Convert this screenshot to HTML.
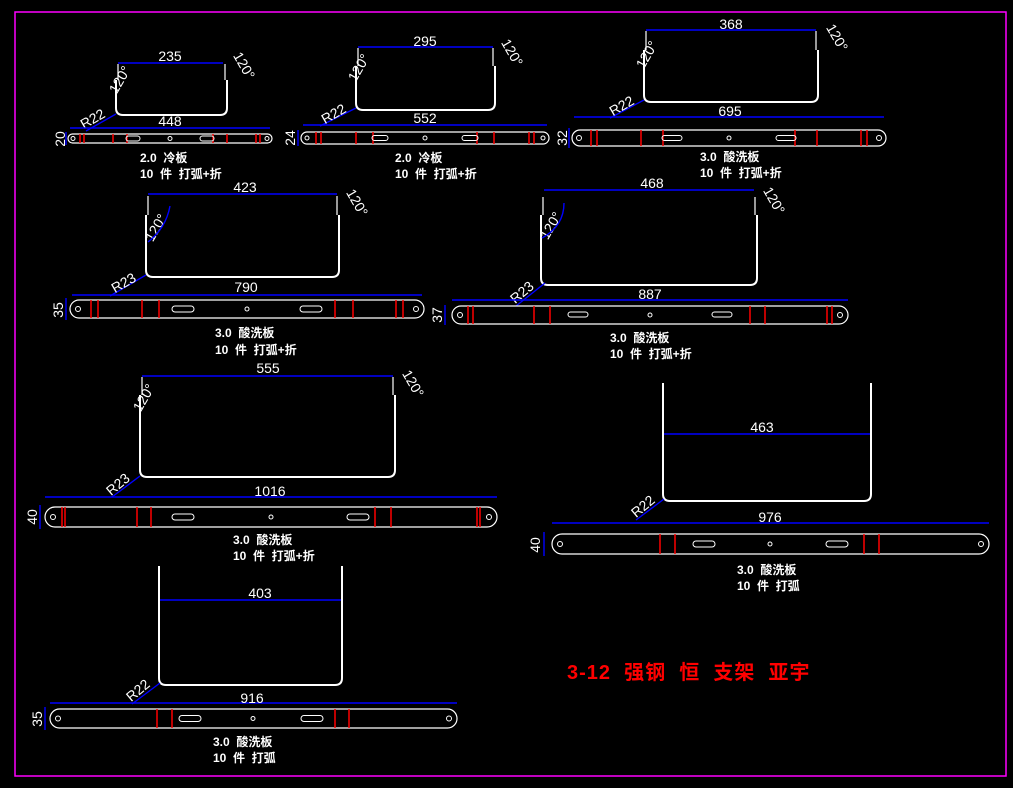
<!DOCTYPE html>
<html><head><meta charset="utf-8"><style>
html,body{margin:0;padding:0;background:#000;}
svg{display:block}
text{font-family:"Liberation Sans","Noto Sans CJK SC",sans-serif;fill:#fff;}
.u{fill:none;stroke:#fff;stroke-width:2}
.s{fill:none;stroke:#fff;stroke-width:1.2}
.d{stroke:#0000ff;stroke-width:1.4;fill:none}
.w{stroke:#fff;stroke-width:1;fill:none}
.r{stroke:#ff0000;stroke-width:1.5}
.dt{font-size:14px;text-anchor:middle}
.lt{font-size:12px;font-weight:bold}
</style></head><body>
<svg width="1013" height="788" viewBox="0 0 1013 788" xmlns="http://www.w3.org/2000/svg">
<rect x="0" y="0" width="1013" height="788" fill="#000"/>
<rect x="15" y="12" width="991" height="764" fill="none" stroke="#ff00ff" stroke-width="1.5"/>

<!-- Part 1 -->
<path class="u" d="M116,80 L116,108 Q116,115 123,115 L220,115 Q227,115 227,108 L227,80"/>
<path class="s" d="M118,80 L118,64 M225,80 L225,64"/>
<line class="d" x1="118" y1="63" x2="223" y2="63"/>
<text class="dt" x="170" y="61">235</text>
<text class="dt" x="240" y="68" transform="rotate(60 240 68)">120°</text>
<text class="dt" x="124" y="82" transform="rotate(-60 124 82)">120°</text>
<line class="d" x1="86" y1="131" x2="116" y2="114"/>
<text class="dt" x="95" y="123" transform="rotate(-30 95 123)">R22</text>
<line class="d" x1="70" y1="128" x2="270" y2="128"/>
<text class="dt" x="170" y="126">448</text>
<rect class="s" x="68" y="134" width="204" height="9" rx="4.5"/>
<g class="r"><line x1="80" y1="134" x2="80" y2="143"/><line x1="84" y1="134" x2="84" y2="143"/><line x1="113" y1="134" x2="113" y2="143"/><line x1="127" y1="134" x2="127" y2="143"/><line x1="213" y1="134" x2="213" y2="143"/><line x1="227" y1="134" x2="227" y2="143"/><line x1="256" y1="134" x2="256" y2="143"/><line x1="260" y1="134" x2="260" y2="143"/></g>
<rect class="w" x="126" y="136" width="14" height="5" rx="2.5"/><rect class="w" x="200" y="136" width="14" height="5" rx="2.5"/>
<circle class="w" cx="170" cy="138.5" r="2"/><circle class="w" cx="73" cy="138.5" r="2"/><circle class="w" cx="267" cy="138.5" r="2"/>
<line class="d" x1="66" y1="132" x2="66" y2="145"/>
<text class="dt" x="60" y="139" transform="rotate(-90 60 139)" dy="5">20</text>
<text class="lt" x="140" y="162">2.0&#160;&#160;冷板</text>
<text class="lt" x="140" y="178">10&#160;&#160;件&#160;&#160;打弧+折</text>

<!-- Part 2 -->
<path class="u" d="M356,66 L356,103 Q356,110 363,110 L488,110 Q495,110 495,103 L495,66"/>
<path class="s" d="M358,66 L358,48 M493,66 L493,48"/>
<line class="d" x1="358" y1="47" x2="493" y2="47"/>
<text class="dt" x="425" y="46">295</text>
<text class="dt" x="508" y="55" transform="rotate(60 508 55)">120°</text>
<text class="dt" x="363" y="70" transform="rotate(-60 363 70)">120°</text>
<line class="d" x1="320" y1="126" x2="356" y2="108"/>
<text class="dt" x="336" y="118" transform="rotate(-30 336 118)">R22</text>
<line class="d" x1="303" y1="125" x2="547" y2="125"/>
<text class="dt" x="425" y="123">552</text>
<rect class="s" x="301" y="132" width="248" height="12" rx="6"/>
<g class="r"><line x1="316" y1="132" x2="316" y2="144"/><line x1="321" y1="132" x2="321" y2="144"/><line x1="356" y1="132" x2="356" y2="144"/><line x1="373" y1="132" x2="373" y2="144"/><line x1="477" y1="132" x2="477" y2="144"/><line x1="494" y1="132" x2="494" y2="144"/><line x1="529" y1="132" x2="529" y2="144"/><line x1="534" y1="132" x2="534" y2="144"/></g>
<rect class="w" x="372" y="135.5" width="16" height="5" rx="2.5"/><rect class="w" x="462" y="135.5" width="16" height="5" rx="2.5"/>
<circle class="w" cx="425" cy="138" r="2"/><circle class="w" cx="307" cy="138" r="2"/><circle class="w" cx="543" cy="138" r="2"/>
<line class="d" x1="298" y1="130" x2="298" y2="146"/>
<text class="dt" x="290" y="138" transform="rotate(-90 290 138)" dy="5">24</text>
<text class="lt" x="395" y="162">2.0&#160;&#160;冷板</text>
<text class="lt" x="395" y="178">10&#160;&#160;件&#160;&#160;打弧+折</text>

<!-- Part 3 -->
<path class="u" d="M644,50 L644,95 Q644,102 651,102 L811,102 Q818,102 818,95 L818,50"/>
<path class="s" d="M646,50 L646,31 M816,50 L816,31"/>
<line class="d" x1="646" y1="30" x2="816" y2="30"/>
<text class="dt" x="731" y="29">368</text>
<text class="dt" x="833" y="40" transform="rotate(60 833 40)">120°</text>
<text class="dt" x="651" y="57" transform="rotate(-60 651 57)">120°</text>
<line class="d" x1="610" y1="118" x2="644" y2="100"/>
<text class="dt" x="624" y="110" transform="rotate(-30 624 110)">R22</text>
<line class="d" x1="574" y1="117" x2="884" y2="117"/>
<text class="dt" x="730" y="116">695</text>
<rect class="s" x="572" y="130" width="314" height="16" rx="8"/>
<g class="r"><line x1="591" y1="130" x2="591" y2="146"/><line x1="597" y1="130" x2="597" y2="146"/><line x1="641" y1="130" x2="641" y2="146"/><line x1="663" y1="130" x2="663" y2="146"/><line x1="795" y1="130" x2="795" y2="146"/><line x1="817" y1="130" x2="817" y2="146"/><line x1="861" y1="130" x2="861" y2="146"/><line x1="867" y1="130" x2="867" y2="146"/></g>
<rect class="w" x="662" y="135.5" width="20" height="5" rx="2.5"/><rect class="w" x="776" y="135.5" width="20" height="5" rx="2.5"/>
<circle class="w" cx="729" cy="138" r="2"/><circle class="w" cx="579" cy="138" r="2.5"/><circle class="w" cx="879" cy="138" r="2.5"/>
<line class="d" x1="569" y1="128" x2="569" y2="148"/>
<text class="dt" x="562" y="138" transform="rotate(-90 562 138)" dy="5">32</text>
<text class="lt" x="700" y="161">3.0&#160;&#160;酸洗板</text>
<text class="lt" x="700" y="177">10&#160;&#160;件&#160;&#160;打弧+折</text>

<!-- Part 4 -->
<path class="u" d="M146,215 L146,270 Q146,277 153,277 L332,277 Q339,277 339,270 L339,215"/>
<path class="s" d="M148,215 L148,196 M337,215 L337,196"/>
<line class="d" x1="148" y1="194" x2="337" y2="194"/>
<text class="dt" x="245" y="192">423</text>
<text class="dt" x="353" y="205" transform="rotate(60 353 205)">120°</text>
<text class="dt" x="160" y="230" transform="rotate(-60 160 230)">120°</text>
<path class="d" d="M148,242 Q166,228 170,206"/>
<line class="d" x1="110" y1="296" x2="146" y2="275"/>
<text class="dt" x="126" y="287" transform="rotate(-30 126 287)">R23</text>
<line class="d" x1="72" y1="295" x2="422" y2="295"/>
<text class="dt" x="246" y="292">790</text>
<rect class="s" x="70" y="300" width="354" height="18" rx="9"/>
<g class="r"><line x1="91" y1="300" x2="91" y2="318"/><line x1="98" y1="300" x2="98" y2="318"/><line x1="142" y1="300" x2="142" y2="318"/><line x1="159" y1="300" x2="159" y2="318"/><line x1="335" y1="300" x2="335" y2="318"/><line x1="353" y1="300" x2="353" y2="318"/><line x1="396" y1="300" x2="396" y2="318"/><line x1="403" y1="300" x2="403" y2="318"/></g>
<rect class="w" x="172" y="306" width="22" height="6" rx="3"/><rect class="w" x="300" y="306" width="22" height="6" rx="3"/>
<circle class="w" cx="247" cy="309" r="2"/><circle class="w" cx="78" cy="309" r="2.5"/><circle class="w" cx="416" cy="309" r="2.5"/>
<line class="d" x1="66" y1="298" x2="66" y2="320"/>
<text class="dt" x="58" y="310" transform="rotate(-90 58 310)" dy="5">35</text>
<text class="lt" x="215" y="337">3.0&#160;&#160;酸洗板</text>
<text class="lt" x="215" y="354">10&#160;&#160;件&#160;&#160;打弧+折</text>

<!-- Part 5 -->
<path class="u" d="M541,215 L541,278 Q541,285 548,285 L750,285 Q757,285 757,278 L757,215"/>
<path class="s" d="M543,215 L543,197 M755,215 L755,197"/>
<line class="d" x1="544" y1="190" x2="754" y2="190"/>
<text class="dt" x="652" y="188">468</text>
<text class="dt" x="770" y="203" transform="rotate(60 770 203)">120°</text>
<text class="dt" x="555" y="228" transform="rotate(-60 555 228)">120°</text>
<path class="d" d="M542,238 Q564,226 564,203"/>
<line class="d" x1="516" y1="306" x2="545" y2="283"/>
<text class="dt" x="525" y="296" transform="rotate(-40 525 296)">R23</text>
<line class="d" x1="452" y1="300" x2="848" y2="300"/>
<text class="dt" x="650" y="299">887</text>
<rect class="s" x="452" y="306" width="396" height="18" rx="9"/>
<g class="r"><line x1="468" y1="306" x2="468" y2="324"/><line x1="473" y1="306" x2="473" y2="324"/><line x1="534" y1="306" x2="534" y2="324"/><line x1="550" y1="306" x2="550" y2="324"/><line x1="750" y1="306" x2="750" y2="324"/><line x1="765" y1="306" x2="765" y2="324"/><line x1="827" y1="306" x2="827" y2="324"/><line x1="832" y1="306" x2="832" y2="324"/></g>
<rect class="w" x="568" y="312" width="20" height="5" rx="2.5"/><rect class="w" x="712" y="312" width="20" height="5" rx="2.5"/>
<circle class="w" cx="650" cy="315" r="2"/><circle class="w" cx="460" cy="315" r="2.5"/><circle class="w" cx="840" cy="315" r="2.5"/>
<line class="d" x1="445" y1="305" x2="445" y2="325"/>
<text class="dt" x="437" y="315" transform="rotate(-90 437 315)" dy="5">37</text>
<text class="lt" x="610" y="342">3.0&#160;&#160;酸洗板</text>
<text class="lt" x="610" y="358">10&#160;&#160;件&#160;&#160;打弧+折</text>

<!-- Part 6 -->
<path class="u" d="M140,395 L140,470 Q140,477 147,477 L388,477 Q395,477 395,470 L395,395"/>
<path class="s" d="M142,395 L142,377 M393,395 L393,377"/>
<line class="d" x1="142" y1="376" x2="393" y2="376"/>
<text class="dt" x="268" y="373">555</text>
<text class="dt" x="409" y="386" transform="rotate(60 409 386)">120°</text>
<text class="dt" x="148" y="400" transform="rotate(-60 148 400)">120°</text>
<line class="d" x1="112" y1="497" x2="140" y2="476"/>
<text class="dt" x="121" y="488" transform="rotate(-40 121 488)">R23</text>
<line class="d" x1="45" y1="497" x2="497" y2="497"/>
<text class="dt" x="270" y="496">1016</text>
<rect class="s" x="45" y="507" width="452" height="20" rx="10"/>
<g class="r"><line x1="62" y1="507" x2="62" y2="527"/><line x1="65" y1="507" x2="65" y2="527"/><line x1="137" y1="507" x2="137" y2="527"/><line x1="151" y1="507" x2="151" y2="527"/><line x1="375" y1="507" x2="375" y2="527"/><line x1="391" y1="507" x2="391" y2="527"/><line x1="477" y1="507" x2="477" y2="527"/><line x1="480" y1="507" x2="480" y2="527"/></g>
<rect class="w" x="172" y="514" width="22" height="6" rx="3"/><rect class="w" x="347" y="514" width="22" height="6" rx="3"/>
<circle class="w" cx="271" cy="517" r="2"/><circle class="w" cx="53" cy="517" r="2.5"/><circle class="w" cx="489" cy="517" r="2.5"/>
<line class="d" x1="40" y1="505" x2="40" y2="529"/>
<text class="dt" x="32" y="517" transform="rotate(-90 32 517)" dy="5">40</text>
<text class="lt" x="233" y="544">3.0&#160;&#160;酸洗板</text>
<text class="lt" x="233" y="560">10&#160;&#160;件&#160;&#160;打弧+折</text>

<!-- Part 7 -->
<path class="u" d="M663,383 L663,494 Q663,501 670,501 L864,501 Q871,501 871,494 L871,383"/>
<line class="d" x1="664" y1="434" x2="870" y2="434"/>
<text class="dt" x="762" y="432">463</text>
<line class="d" x1="636" y1="520" x2="664" y2="499"/>
<text class="dt" x="646" y="510" transform="rotate(-40 646 510)">R22</text>
<line class="d" x1="552" y1="523" x2="989" y2="523"/>
<text class="dt" x="770" y="522">976</text>
<rect class="s" x="552" y="534" width="437" height="20" rx="10"/>
<g class="r"><line x1="660" y1="534" x2="660" y2="554"/><line x1="675" y1="534" x2="675" y2="554"/><line x1="864" y1="534" x2="864" y2="554"/><line x1="879" y1="534" x2="879" y2="554"/></g>
<rect class="w" x="693" y="541" width="22" height="6" rx="3"/><rect class="w" x="826" y="541" width="22" height="6" rx="3"/>
<circle class="w" cx="770" cy="544" r="2"/><circle class="w" cx="560" cy="544" r="2.5"/><circle class="w" cx="981" cy="544" r="2.5"/>
<line class="d" x1="544" y1="532" x2="544" y2="556"/>
<text class="dt" x="535" y="545" transform="rotate(-90 535 545)" dy="5">40</text>
<text class="lt" x="737" y="574">3.0&#160;&#160;酸洗板</text>
<text class="lt" x="737" y="590">10&#160;&#160;件&#160;&#160;打弧</text>

<!-- Part 8 -->
<path class="u" d="M159,566 L159,678 Q159,685 166,685 L335,685 Q342,685 342,678 L342,566"/>
<line class="d" x1="160" y1="600" x2="341" y2="600"/>
<text class="dt" x="260" y="598">403</text>
<line class="d" x1="132" y1="704" x2="160" y2="683"/>
<text class="dt" x="141" y="694" transform="rotate(-40 141 694)">R22</text>
<line class="d" x1="50" y1="703" x2="457" y2="703"/>
<text class="dt" x="252" y="703">916</text>
<rect class="s" x="50" y="709" width="407" height="19" rx="9.5"/>
<g class="r"><line x1="157" y1="709" x2="157" y2="728"/><line x1="172" y1="709" x2="172" y2="728"/><line x1="335" y1="709" x2="335" y2="728"/><line x1="349" y1="709" x2="349" y2="728"/></g>
<rect class="w" x="179" y="715.5" width="22" height="6" rx="3"/><rect class="w" x="301" y="715.5" width="22" height="6" rx="3"/>
<circle class="w" cx="253" cy="718.5" r="2"/><circle class="w" cx="58" cy="718.5" r="2.5"/><circle class="w" cx="449" cy="718.5" r="2.5"/>
<line class="d" x1="45" y1="707" x2="45" y2="730"/>
<text class="dt" x="37" y="719" transform="rotate(-90 37 719)" dy="5">35</text>
<text class="lt" x="213" y="746">3.0&#160;&#160;酸洗板</text>
<text class="lt" x="213" y="762">10&#160;&#160;件&#160;&#160;打弧</text>

<text x="567" y="679" style="fill:#ff0000;font-size:20px;letter-spacing:1px;font-weight:bold;font-family:'Liberation Sans','Noto Sans CJK SC',sans-serif">3-12&#160;&#160;强钢&#160;&#160;恒&#160;&#160;支架&#160;&#160;亚宇</text>
</svg>
</body></html>
